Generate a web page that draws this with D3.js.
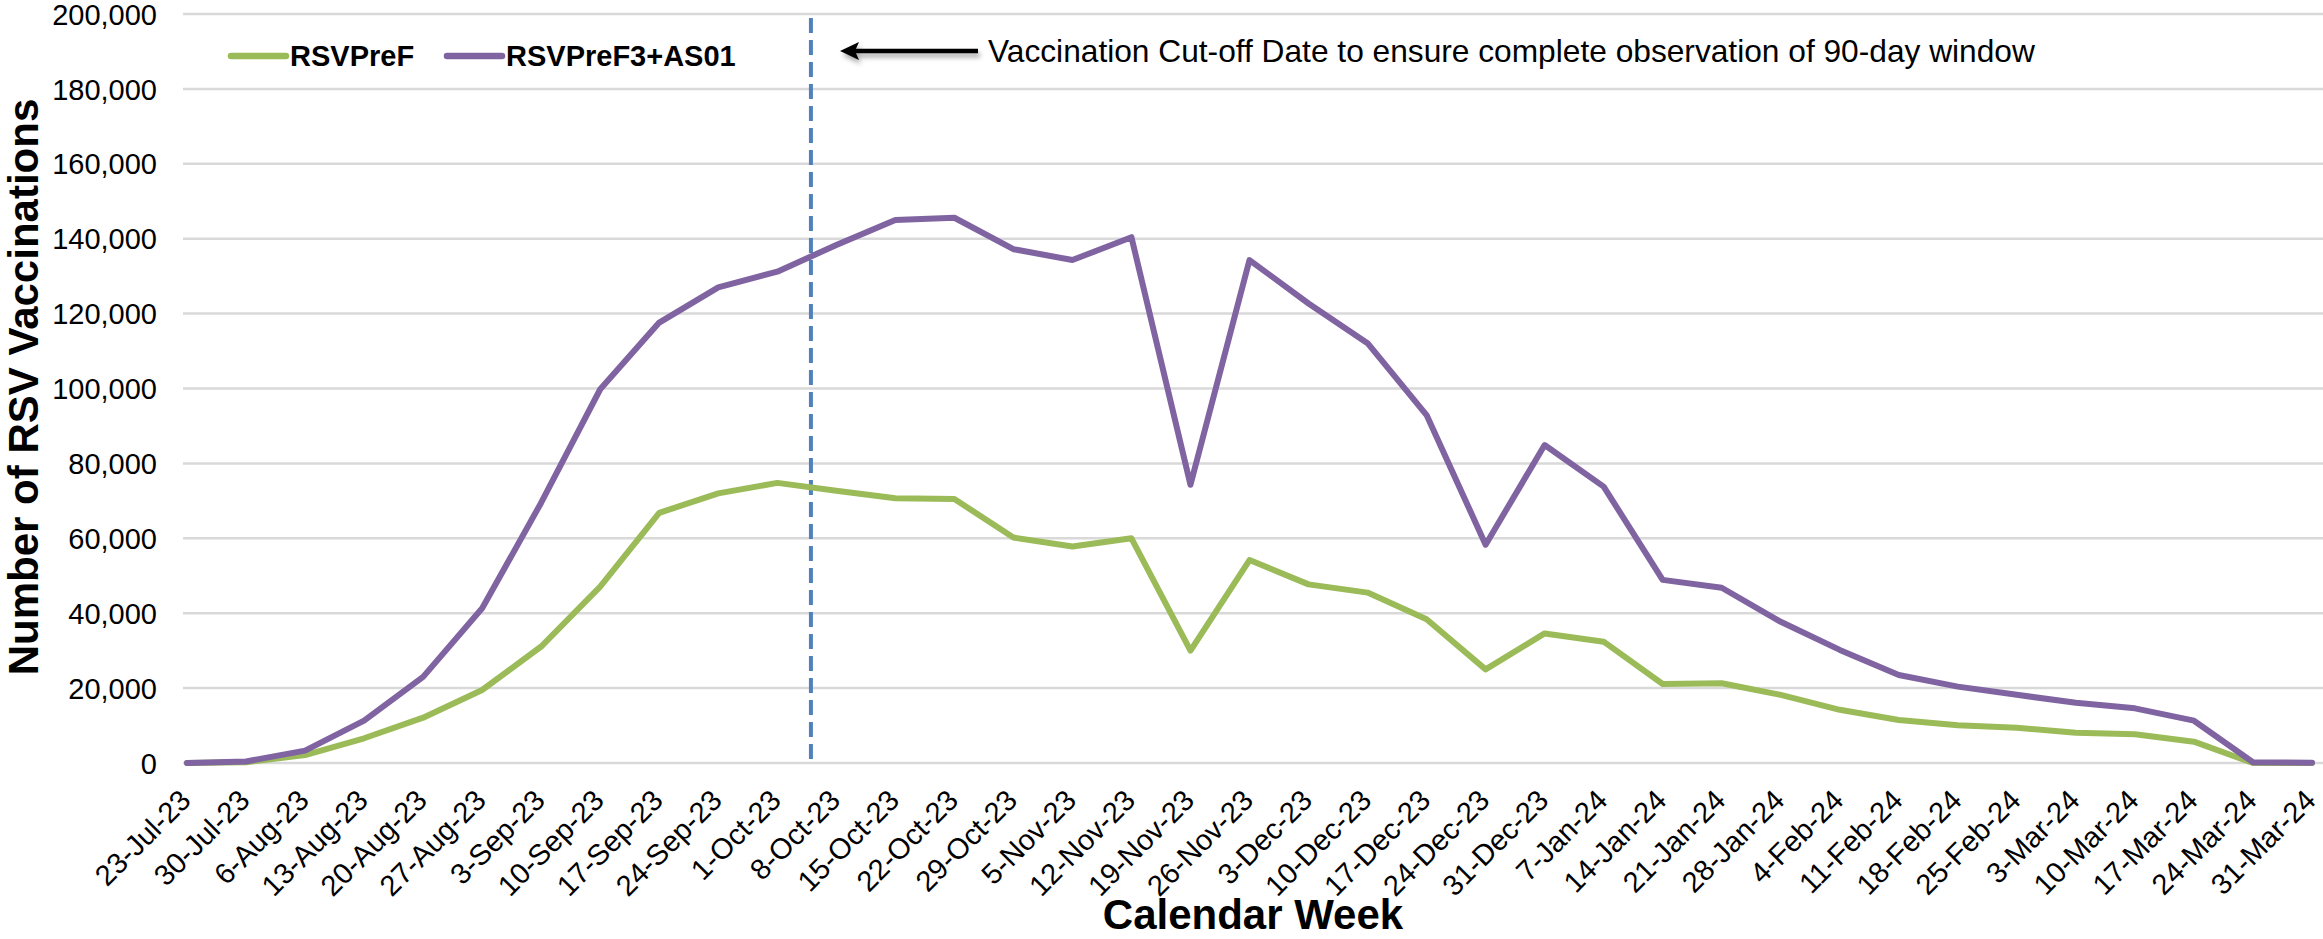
<!DOCTYPE html>
<html>
<head>
<meta charset="utf-8">
<script src="https://cdn.jsdelivr.net/npm/d3@7/dist/d3.min.js"></script>
<style>
  body { margin: 0; background: #fff; }
  svg text { font-family: "Liberation Sans", Arial, sans-serif; fill: #000; }
</style>
</head>
<body>
<div class="chart"><svg></svg></div>
<script>
// weeks on the x axis
var weeks = ["23-Jul-23", "30-Jul-23", "6-Aug-23", "13-Aug-23", "20-Aug-23", "27-Aug-23",
  "3-Sep-23", "10-Sep-23", "17-Sep-23", "24-Sep-23", "1-Oct-23", "8-Oct-23", "15-Oct-23",
  "22-Oct-23", "29-Oct-23", "5-Nov-23", "12-Nov-23", "19-Nov-23", "26-Nov-23", "3-Dec-23",
  "10-Dec-23", "17-Dec-23", "24-Dec-23", "31-Dec-23", "7-Jan-24", "14-Jan-24", "21-Jan-24",
  "28-Jan-24", "4-Feb-24", "11-Feb-24", "18-Feb-24", "25-Feb-24", "3-Mar-24", "10-Mar-24",
  "17-Mar-24", "24-Mar-24", "31-Mar-24"]

var rsvpref = [0, 200, 2100, 6600, 12100, 19500, 31100, 47100, 66800, 72000, 74800, 72700,
  70700, 70500, 60200, 57800, 60000, 30000, 54200, 47700, 45500, 38400, 25000, 34600,
  32400, 21100, 21300, 18200, 14200, 11500, 10100, 9400, 8100, 7700, 5700, 0, 0]

var rsvpref3 = [0, 400, 3300, 11300, 23000, 41300, 69500, 99800, 117600, 127000, 131200, 138300,
  145000, 145600, 137200, 134300, 140400, 74300, 134300, 122700, 112100, 92900, 58300, 84900,
  73800, 48900, 46800, 37700, 30200, 23500, 20400, 18200, 16100, 14600, 11300, 200, 100]

var yTicks = [0, 20000, 40000, 60000, 80000, 100000, 120000, 140000, 160000, 180000, 200000]

var seriesNames = ["RSVPreF", "RSVPreF3+AS01"]
var seriesColors = ["#9BBB59", "#8064A2"]

// cut-off sits between 1-Oct and 8-Oct
var cutoffPos = 10.57
var cutoffText = "Vaccination Cut-off Date to ensure complete observation of 90-day window"

var width = 2323
var height = 939
var margin = { top: 14, right: 11, bottom: 176, left: 187 }

let svg = d3.select(".chart").select("svg")
  .attr("width", width)
  .attr("height", height)

var x = d3.scalePoint()
  .domain(weeks)
  .range([margin.left, width - margin.right])

var xIdx = d3.scaleLinear()
  .domain([0, weeks.length - 1])
  .range([margin.left, width - margin.right])

var y = d3.scaleLinear()
  .domain([0, 200000])
  .range([height - margin.bottom, margin.top])

let defs = svg.append("defs")
let shadow = defs.append("filter")
  .attr("id", "shadow")
  .attr("x", "-20%").attr("y", "-200%")
  .attr("width", "140%").attr("height", "500%")
shadow.append("feDropShadow")
  .attr("dx", 2).attr("dy", 4)
  .attr("stdDeviation", 2.5)
  .attr("flood-color", "#000")
  .attr("flood-opacity", 0.35)

// gridlines
svg.append("g")
  .attr("class", "grid")
  .selectAll("line")
  .data(yTicks)
  .join("line")
  .attr("x1", margin.left - 4)
  .attr("x2", width)
  .attr("y1", d => y(d))
  .attr("y2", d => y(d))
  .attr("stroke", "#D9D9D9")
  .attr("stroke-width", 2.5)

// y axis labels
let yAxis = svg.append("g")
  .attr("class", "y-axis")
  .attr("transform", "translate(" + (margin.left - 30) + ",0)")
  .call(d3.axisLeft(y).tickValues(yTicks).tickSize(0).tickPadding(0).tickFormat(d3.format(",")))
yAxis.select(".domain").remove()
yAxis.selectAll("text")
  .attr("font-size", 29)
  .attr("font-family", "Liberation Sans, Arial, sans-serif")
  .attr("dy", "0.35em")

// x axis labels
let xAxis = svg.append("g")
  .attr("class", "x-axis")
  .attr("transform", "translate(0," + (height - margin.bottom) + ")")
  .call(d3.axisBottom(x).tickSize(0).tickPadding(0))
xAxis.select(".domain").remove()
xAxis.selectAll("text")
  .attr("font-size", 29)
  .attr("font-family", "Liberation Sans, Arial, sans-serif")
  .attr("text-anchor", "end")
  .attr("y", 0)
  .attr("dy", 0)
  .attr("transform", "translate(5,39) rotate(-45)")

// cut-off line
svg.append("line")
  .attr("x1", xIdx(cutoffPos))
  .attr("x2", xIdx(cutoffPos))
  .attr("y1", 18)
  .attr("y2", y(0))
  .attr("stroke", "#4F81BD")
  .attr("stroke-width", 4)
  .attr("stroke-dasharray", "15,7")

// lines
var line = d3.line()
  .x((d, i) => x(weeks[i]))
  .y(d => y(d))

svg.append("path")
  .datum(rsvpref)
  .attr("d", line)
  .attr("fill", "none")
  .attr("stroke", seriesColors[0])
  .attr("stroke-width", 6)
  .attr("stroke-linejoin", "round")
  .attr("stroke-linecap", "round")

svg.append("path")
  .datum(rsvpref3)
  .attr("d", line)
  .attr("fill", "none")
  .attr("stroke", seriesColors[1])
  .attr("stroke-width", 6)
  .attr("stroke-linejoin", "round")
  .attr("stroke-linecap", "round")

// arrow + note
let note = svg.append("g")
  .attr("filter", "url(#shadow)")
note.append("line")
  .attr("x1", 978).attr("x2", 852)
  .attr("y1", 51).attr("y2", 51)
  .attr("stroke", "#000")
  .attr("stroke-width", 4.5)
note.append("path")
  .attr("d", "M840,51L859,42L855,51L859,60Z")
  .attr("fill", "#000")

svg.append("text")
  .attr("x", 988)
  .attr("y", 62)
  .attr("font-size", 31.7)
  .text(cutoffText)

// legend
var legendX = [231, 447]
var legend = svg.append("g").attr("class", "legend")
seriesNames.forEach(function (name, i) {
  legend.append("line")
    .attr("x1", legendX[i]).attr("x2", legendX[i] + 55)
    .attr("y1", 56).attr("y2", 56)
    .attr("stroke", seriesColors[i])
    .attr("stroke-width", 6.5)
    .attr("stroke-linecap", "round")
  legend.append("text")
    .attr("x", legendX[i] + 59)
    .attr("y", 66)
    .attr("font-size", 29)
    .attr("font-weight", "bold")
    .text(name)
})

// axis titles
svg.append("text")
  .attr("transform", "translate(38,387) rotate(-90)")
  .attr("text-anchor", "middle")
  .attr("font-size", 42)
  .attr("font-weight", "bold")
  .text("Number of RSV Vaccinations")

svg.append("text")
  .attr("x", 1253)
  .attr("y", 929)
  .attr("text-anchor", "middle")
  .attr("font-size", 42)
  .attr("font-weight", "bold")
  .text("Calendar Week")
</script>
</body>
</html>
